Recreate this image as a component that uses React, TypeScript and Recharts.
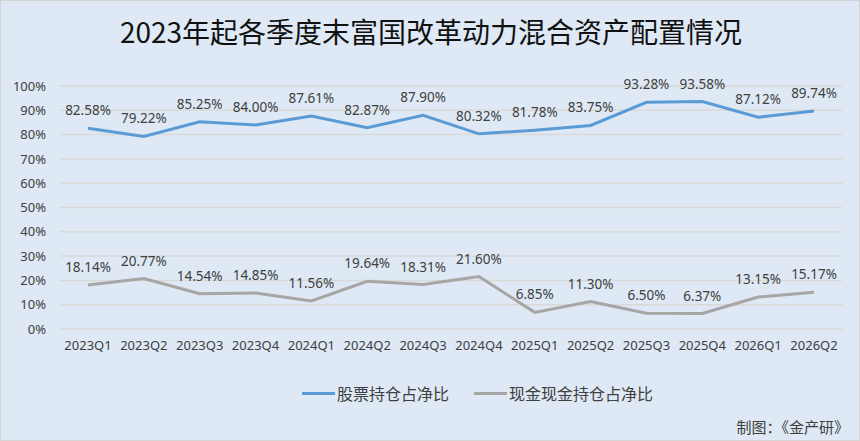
import React from "react";
import { LineChart, Line, XAxis, YAxis, CartesianGrid, LabelList } from "recharts";

const quarters = [
  "2023Q1", "2023Q2", "2023Q3", "2023Q4",
  "2024Q1", "2024Q2", "2024Q3", "2024Q4",
  "2025Q1", "2025Q2", "2025Q3", "2025Q4",
  "2026Q1", "2026Q2",
];
const stockRatio = [82.58, 79.22, 85.25, 84.0, 87.61, 82.87, 87.9, 80.32, 81.78, 83.75, 93.28, 93.58, 87.12, 89.74];
const cashRatio = [18.14, 20.77, 14.54, 14.85, 11.56, 19.64, 18.31, 21.6, 6.85, 11.3, 6.5, 6.37, 13.15, 15.17];
const yTicks = [0, 10, 20, 30, 40, 50, 60, 70, 80, 90, 100];

const stockName = "股票持仓占净比";
const cashName = "现金现金持仓占净比";

const blueColor = "#5b9bd5";
const grayColor = "#a8a5a5";
const bgColor = "#dee9f5";
const textColor = "#404040";
const font = "'Noto Sans', 'Noto Sans CJK SC', sans-serif";
const cjkFont = "'Noto Sans CJK SC', sans-serif";

const chartData = quarters.map((q, i) => ({ quarter: q, stock: stockRatio[i], cash: cashRatio[i] }));

const pct = (v: any) => Number(v).toFixed(2) + "%";

const LegendItem = (props: { color: string; name: string }) => (
  <span style={{ display: "inline-flex", alignItems: "center", marginRight: 25 }}>
    <span style={{ display: "inline-block", width: 33, height: 3, background: props.color, marginRight: 2 }} />
    <span>{props.name}</span>
  </span>
);

export default function App() {
  return (
    <div
      style={{
        position: "absolute", left: 0, top: 0, width: 860, height: 441,
        background: bgColor, border: "1px solid #d4d4d4", boxSizing: "border-box",
        fontFamily: font, color: textColor, overflow: "hidden",
      }}
    >
      <div
        style={{
          position: "absolute", top: 10, left: 0, width: 860, textAlign: "center",
          fontSize: 28, color: "#111", fontFamily: cjkFont, lineHeight: "40px",
        }}
      >
        2023年起各季度末富国改革动力混合资产配置情况
      </div>
      <div style={{ position: "absolute", left: -1, top: -1 }}>
        <LineChart width={860} height={441} data={chartData} margin={{ top: 86, right: 18, bottom: 82, left: 0 }}>
          <CartesianGrid vertical={false} stroke="#d9d9d9" strokeWidth={1.5} />
          <XAxis
            dataKey="quarter"
            height={30}
            axisLine={false}
            tickLine={false}
            tickSize={0}
            tickMargin={12}
            padding={{ left: 28, right: 28 }}
            tick={{ fill: textColor, fontSize: 13, fontFamily: font }}
            interval={0}
          />
          <YAxis
            width={60}
            domain={[0, 100]}
            ticks={yTicks}
            axisLine={false}
            tickLine={false}
            tickSize={0}
            tickMargin={14}
            tickFormatter={(v) => v + "%"}
            tick={{ fill: textColor, fontSize: 13, fontFamily: font }}
          />
          <Line dataKey="stock" name={stockName} stroke={blueColor} strokeWidth={3} dot={false} isAnimationActive={false}>
            <LabelList dataKey="stock" position="top" offset={13} formatter={pct} fill={textColor} fontSize={13.5} fontFamily={font} />
          </Line>
          <Line dataKey="cash" name={cashName} stroke={grayColor} strokeWidth={3} dot={false} isAnimationActive={false}>
            <LabelList dataKey="cash" position="top" offset={13} formatter={pct} fill={textColor} fontSize={13.5} fontFamily={font} />
          </Line>
        </LineChart>
      </div>
      <div
        style={{
          position: "absolute", top: 379, left: 301, display: "flex", whiteSpace: "nowrap",
          fontSize: 16, fontFamily: cjkFont, lineHeight: "26px",
        }}
      >
        <LegendItem color={blueColor} name={stockName} />
        <LegendItem color={grayColor} name={cashName} />
      </div>
      <div
        style={{
          position: "absolute", right: 10, top: 415, fontSize: 15, whiteSpace: "nowrap",
          fontFamily: cjkFont, lineHeight: "22px",
        }}
      >
        制图：《金产研》
      </div>
    </div>
  );
}
